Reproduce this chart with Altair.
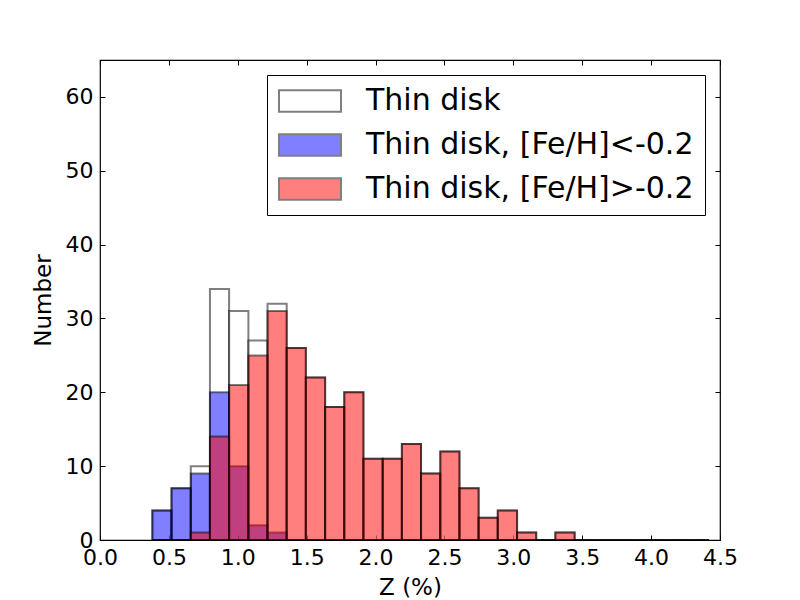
import altair as alt
import pandas as pd

series_names = ["Thin disk", "Thin disk, [Fe/H]<-0.2", "Thin disk, [Fe/H]>-0.2"]
series_colors = ["white", "blue", "red"]

bin_edges = [0.380, 0.519, 0.659, 0.798, 0.937, 1.077, 1.216, 1.355, 1.494, 1.634,
             1.773, 1.912, 2.052, 2.191, 2.330, 2.470, 2.609, 2.748, 2.887, 3.027,
             3.166, 3.305, 3.445, 3.584, 3.723, 3.863, 4.002, 4.141, 4.280, 4.420]

counts_all = [4, 7, 10, 34, 31, 27, 32, 26, 22, 18, 20, 11, 11, 13, 9, 12, 7, 3, 4, 1,
              0, 1, 0, 0, 0, 0, 0, 0, 0]
counts_poor = [4, 7, 9, 20, 10, 2, 1, 0, 0, 0, 0, 0, 0, 0, 0, 0, 0, 0, 0, 0,
               0, 0, 0, 0, 0, 0, 0, 0, 0]
counts_rich = [0, 0, 1, 14, 21, 25, 31, 26, 22, 18, 20, 11, 11, 13, 9, 12, 7, 3, 4, 1,
               0, 1, 0, 0, 0, 0, 0, 0, 0]

x_ticks = [0.0, 0.5, 1.0, 1.5, 2.0, 2.5, 3.0, 3.5, 4.0, 4.5]
y_ticks = [0, 10, 20, 30, 40, 50, 60]

rows = []
for name, counts in zip(series_names, [counts_all, counts_poor, counts_rich]):
    for i, c in enumerate(counts):
        rows.append({"series": name, "x0": bin_edges[i], "x1": bin_edges[i + 1],
                     "count": c, "base": 0})
df = pd.DataFrame(rows)

FONT = "DejaVu Sans"

xscale = alt.Scale(domain=[0, 4.5], nice=False, zero=False)
yscale = alt.Scale(domain=[0, 65], nice=False)

bars = alt.Chart(df).mark_rect(
    fillOpacity=0.5, stroke="black", strokeOpacity=0.5, strokeWidth=2
).encode(
    x=alt.X("x0:Q", scale=xscale, axis=alt.Axis(
        orient="bottom", values=x_ticks, format=".1f", offset=-5, tickSize=5,
        domain=False, grid=False, labelPadding=7, labelFontSize=22, labelFont=FONT,
        labelColor="black", tickColor="black", labelFlush=False, labelOverlap=False,
        title="Z (%)", titleFontSize=23, titleFont=FONT, titleFontWeight="normal",
        titleColor="black", titlePadding=8)),
    x2="x1:Q",
    y=alt.Y("count:Q", scale=yscale, axis=alt.Axis(
        orient="left", values=y_ticks, offset=-5, tickSize=5, domain=False,
        grid=False, labelPadding=7, labelFontSize=22, labelFont=FONT,
        labelColor="black", tickColor="black", labelFlush=False, labelOverlap=False,
        title="Number", titleFontSize=23, titleFont=FONT, titleFontWeight="normal",
        titleColor="black", titlePadding=10)),
    y2="base:Q",
    fill=alt.Fill("series:N", sort=series_names,
                  scale=alt.Scale(domain=series_names, range=series_colors),
                  legend=alt.Legend(
                      title=None, orient="none", legendX=167, legendY=15,
                      symbolType="M-1,-0.345L1,-0.345L1,0.345L-1,0.345Z",
                      symbolSize=3844, symbolStrokeColor="black",
                      symbolStrokeWidth=2, symbolOpacity=0.5,
                      labelFontSize=30, labelFont=FONT, labelColor="black",
                      labelOffset=24, padding=11, rowPadding=14, clipHeight=30,
                      strokeColor="black", fillColor="white", cornerRadius=0,
                      labelLimit=600)),
)

frame = alt.Chart(df).mark_rule(opacity=0).encode(
    x=alt.X("x0:Q", scale=xscale, axis=alt.Axis(
        orient="top", values=x_ticks, offset=-5, tickSize=5, domain=False,
        grid=False, labels=False, tickColor="black", title=None)),
    y=alt.Y("count:Q", scale=yscale, axis=alt.Axis(
        orient="right", values=y_ticks, offset=-5, tickSize=5, domain=False,
        grid=False, labels=False, tickColor="black", title=None)),
)

chart = alt.layer(bars, frame).properties(
    width=620, height=480,
    padding={"left": 92, "top": 52, "right": 72, "bottom": 60},
    autosize=alt.AutoSizeParams(type="none"),
).configure(font=FONT).configure_view(stroke="black", strokeWidth=1.2)

chart.save("out.html", embed_options={"renderer": "svg", "actions": False})
